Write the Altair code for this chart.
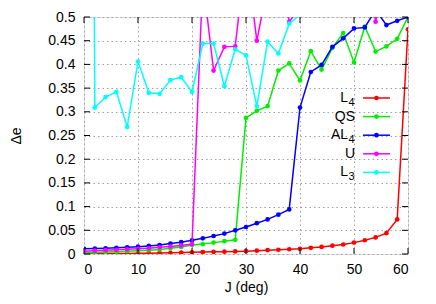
import altair as alt
import pandas as pd

# ---------------- data ----------------
J = list(range(0, 61, 2))
L4 = [0.0, 0.0005, 0.0008, 0.001, 0.0012, 0.0015, 0.0018, 0.002, 0.0025, 0.003,
      0.0035, 0.004, 0.0045, 0.005, 0.0055, 0.006, 0.007, 0.008, 0.009, 0.010,
      0.011, 0.013, 0.015, 0.0175, 0.020, 0.024, 0.029, 0.035, 0.044, 0.073, 0.474]
QS = [0.002, 0.003, 0.004, 0.005, 0.006, 0.007, 0.008, 0.0095, 0.012, 0.015,
      0.019, 0.021, 0.024, 0.027, 0.030, 0.287, 0.302, 0.312, 0.387, 0.402,
      0.366, 0.428, 0.389, 0.435, 0.466, 0.404, 0.480, 0.427, 0.438, 0.454, 0.500]
AL4 = [0.011, 0.0115, 0.012, 0.013, 0.014, 0.0155, 0.017, 0.019, 0.022, 0.025,
       0.029, 0.033, 0.038, 0.043, 0.050, 0.057, 0.065, 0.073, 0.083, 0.094,
       0.309, 0.384, 0.399, 0.437, 0.455, 0.476, 0.478, 0.515, 0.483, 0.492, 0.500]
U = [0.006, 0.007, 0.008, 0.009, 0.010, 0.011, 0.012, 0.014, 0.016, 0.018,
     0.021, 0.58, 0.387, 0.437, 0.438, 0.636, 0.450, 0.564, 0.62, 0.490,
     0.52, 0.66, 0.71, 0.68, 0.74, 0.70, 0.65, 0.490, 0.60, 0.70, 0.75]
L3 = [5.0, 0.309, 0.331, 0.342, 0.268, 0.406, 0.340, 0.338, 0.367, 0.373,
      0.342, 0.444, 0.444, 0.354, 0.432, 0.419, 0.312, 0.448, 0.423, 0.486,
      0.505, 0.64, 0.70, 0.75, 0.72, 0.80, 0.78, 0.83, 0.80, 0.86, 0.90]

series = ["L4", "QS", "AL4", "U", "L3"]
label_main = ["L", "QS", "AL", "U", "L"]
label_sub = ["4", "", "4", "", "3"]
colors = ["#ff0000", "#00ee00", "#0000ff", "#ff00ff", "#00ffff"]
values = [L4, QS, AL4, U, L3]

x_ticks = [0, 10, 20, 30, 40, 50, 60]
y_ticks = [0, 0.05, 0.1, 0.15, 0.2, 0.25, 0.3, 0.35, 0.4, 0.45, 0.5]

# ---------------- layout ----------------
W, H = 324, 237
FONT = "Liberation Sans"
TICK = 6

xscale = alt.Scale(domain=[0, 60], nice=False, zero=False)
yscale = alt.Scale(domain=[0, 0.5], nice=False, zero=False)

x_axis = alt.Axis(values=x_ticks, title="J (deg)", grid=True, gridDash=[1.5, 3],
                  gridColor="#a0a0a0", ticks=False, domain=False, labelFont=FONT,
                  labelFontSize=14, labelColor="black", labelPadding=8,
                  titleFont=FONT, titleFontSize=14, titleFontWeight="normal",
                  titleColor="black", titlePadding=4)
y_axis = alt.Axis(values=y_ticks, title="\u0394e", format=".2~f", grid=True,
                  gridDash=[1.5, 3], gridColor="#a0a0a0", ticks=False, domain=False,
                  labelFont=FONT, labelFontSize=14, labelColor="black", labelPadding=9,
                  titleFont=FONT, titleFontSize=14, titleFontWeight="normal",
                  titleColor="black", titlePadding=24)

x_enc = alt.X("J:Q", scale=xscale, axis=x_axis)
y_enc = alt.Y("val:Q", scale=yscale, axis=y_axis)

layers = []
for s, c, v in zip(series, colors, values):
    df = pd.DataFrame({"J": J, "val": v})
    base = alt.Chart(df)
    layers.append(base.mark_line(color=c, strokeWidth=1.5, clip=True).encode(x=x_enc, y=y_enc))
    layers.append(base.mark_point(color=c, filled=True, opacity=1, size=22, clip=True)
                  .encode(x=x_enc, y=y_enc))

# inward tick marks on all four sides
ydf = pd.DataFrame({"val": y_ticks})
xdf = pd.DataFrame({"J": x_ticks})
layers.append(alt.Chart(ydf).mark_rule(color="black", strokeWidth=1)
              .encode(y=y_enc, x=alt.value(0), x2=alt.value(TICK)))
layers.append(alt.Chart(ydf).mark_rule(color="black", strokeWidth=1)
              .encode(y=y_enc, x=alt.value(W), x2=alt.value(W - TICK)))
layers.append(alt.Chart(xdf).mark_rule(color="black", strokeWidth=1)
              .encode(x=x_enc, y=alt.value(H), y2=alt.value(H - TICK)))
layers.append(alt.Chart(xdf).mark_rule(color="black", strokeWidth=1)
              .encode(x=x_enc, y=alt.value(0), y2=alt.value(TICK)))

# legend (label on the left, line sample + dot on the right)
leg_top, leg_step = 81, 18.6
leg_y = [(H - (leg_top + i * leg_step)) / H * 0.5 for i in range(len(series))]
ldf = pd.DataFrame({"main": label_main, "sub": label_sub, "color": colors, "val": leg_y})
ldf["has_sub"] = ldf["sub"] != ""
lbase = alt.Chart(ldf)
TX = 271
SUBW = 7
layers.append(lbase.transform_filter("!datum.has_sub")
              .mark_text(align="right", baseline="middle", font=FONT, fontSize=14, color="black")
              .encode(text="main:N", x=alt.value(TX), y=y_enc))
layers.append(lbase.transform_filter("datum.has_sub")
              .mark_text(align="right", baseline="middle", font=FONT, fontSize=14, color="black")
              .encode(text="main:N", x=alt.value(TX - SUBW), y=y_enc))
layers.append(lbase.transform_filter("datum.has_sub")
              .mark_text(align="left", baseline="middle", font=FONT, fontSize=11, color="black",
                         dy=5)
              .encode(text="sub:N", x=alt.value(TX - SUBW + 0.5), y=y_enc))
layers.append(lbase.mark_rule(strokeWidth=1.5)
              .encode(x=alt.value(279), x2=alt.value(306), y=y_enc,
                      color=alt.Color("color:N", scale=None)))
layers.append(lbase.mark_point(filled=True, opacity=1, size=22)
              .encode(x=alt.value(292.5), y=y_enc,
                      color=alt.Color("color:N", scale=None)))

chart = alt.layer(*layers).properties(
    width=W, height=H,
    autosize=alt.AutoSizeParams(type="none"),
    padding={"left": 76, "top": 9, "right": 20, "bottom": 42},
).configure_view(stroke="#222222", strokeWidth=1.5).configure(background="white")

chart.save("out.html", embed_options={"renderer": "svg", "actions": False})
